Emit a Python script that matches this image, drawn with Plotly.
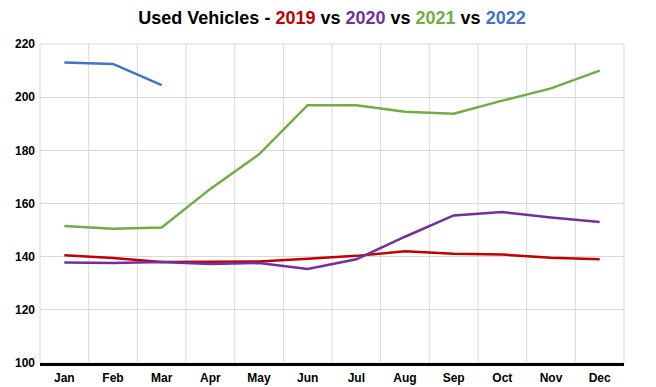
import plotly.graph_objects as go

months = ["Jan", "Feb", "Mar", "Apr", "May", "Jun", "Jul", "Aug", "Sep", "Oct", "Nov", "Dec"]
y2019 = [140.5, 139.5, 138.0, 138.2, 138.2, 139.2, 140.3, 142.0, 141.1, 140.8, 139.6, 139.0]
y2020 = [137.8, 137.6, 138.0, 137.2, 137.6, 135.4, 139.0, 147.5, 155.5, 156.8, 154.7, 153.0]
y2021 = [151.5, 150.5, 151.0, 165.5, 178.5, 197.0, 197.0, 194.5, 193.8, 198.7, 203.3, 210.0]
y2022 = [213.0, 212.5, 204.5]

series = [
    ("2019", y2019, "#C00000"),
    ("2020", y2020, "#7030A0"),
    ("2021", y2021, "#70AD47"),
    ("2022", y2022, "#4472C4"),
]

font = "Arial, Liberation Sans, sans-serif"
fig = go.Figure()
for name, vals, col in series:
    fig.add_trace(go.Scatter(x=months[:len(vals)], y=vals, mode="lines", name=name,
                             line=dict(color=col, width=2.5), showlegend=False))

title = ("<b>Used Vehicles - <span style='color:#C00000'>2019</span> vs "
         "<span style='color:#7030A0'>2020</span> vs "
         "<span style='color:#70AD47'>2021</span> vs "
         "<span style='color:#4472C4'>2022</span></b>")
fig.update_layout(
    width=648, height=379,
    margin=dict(l=32, r=32, t=36, b=24, autoexpand=False),
    paper_bgcolor="white", plot_bgcolor="white",
    title=dict(text=title, x=0.5, xanchor="center", y=0.974, yanchor="middle",
               font=dict(family=font, size=18, color="black")),
    font=dict(family=font),
)
fig.add_shape(type="rect", xref="paper", yref="paper", x0=0, x1=1, y0=0, y1=1,
              line=dict(color="#d9d9d9", width=1), layer="below")
fig.update_xaxes(type="category", range=[-0.5, 11.5], showgrid=False, automargin=False,
                 tickfont=dict(family=font, size=12, color="black"),
                 ticks="", ticklabelstandoff=2,
                 showline=True, linecolor="black", linewidth=3,
                 tickprefix="<b>", ticksuffix="</b>")
for i in range(1, 12):
    fig.add_vline(x=i - 0.5, line=dict(color="#d9d9d9", width=1), layer="below")
fig.update_yaxes(range=[100, 220], dtick=20, showgrid=True, gridcolor="#d9d9d9", gridwidth=1,
                 automargin=False,
                 tickfont=dict(family=font, size=12, color="black"),
                 tickprefix="<b>", ticksuffix="</b>", zeroline=False, ticks="",
                 ticklabelstandoff=4)
fig.write_html("out.html")
